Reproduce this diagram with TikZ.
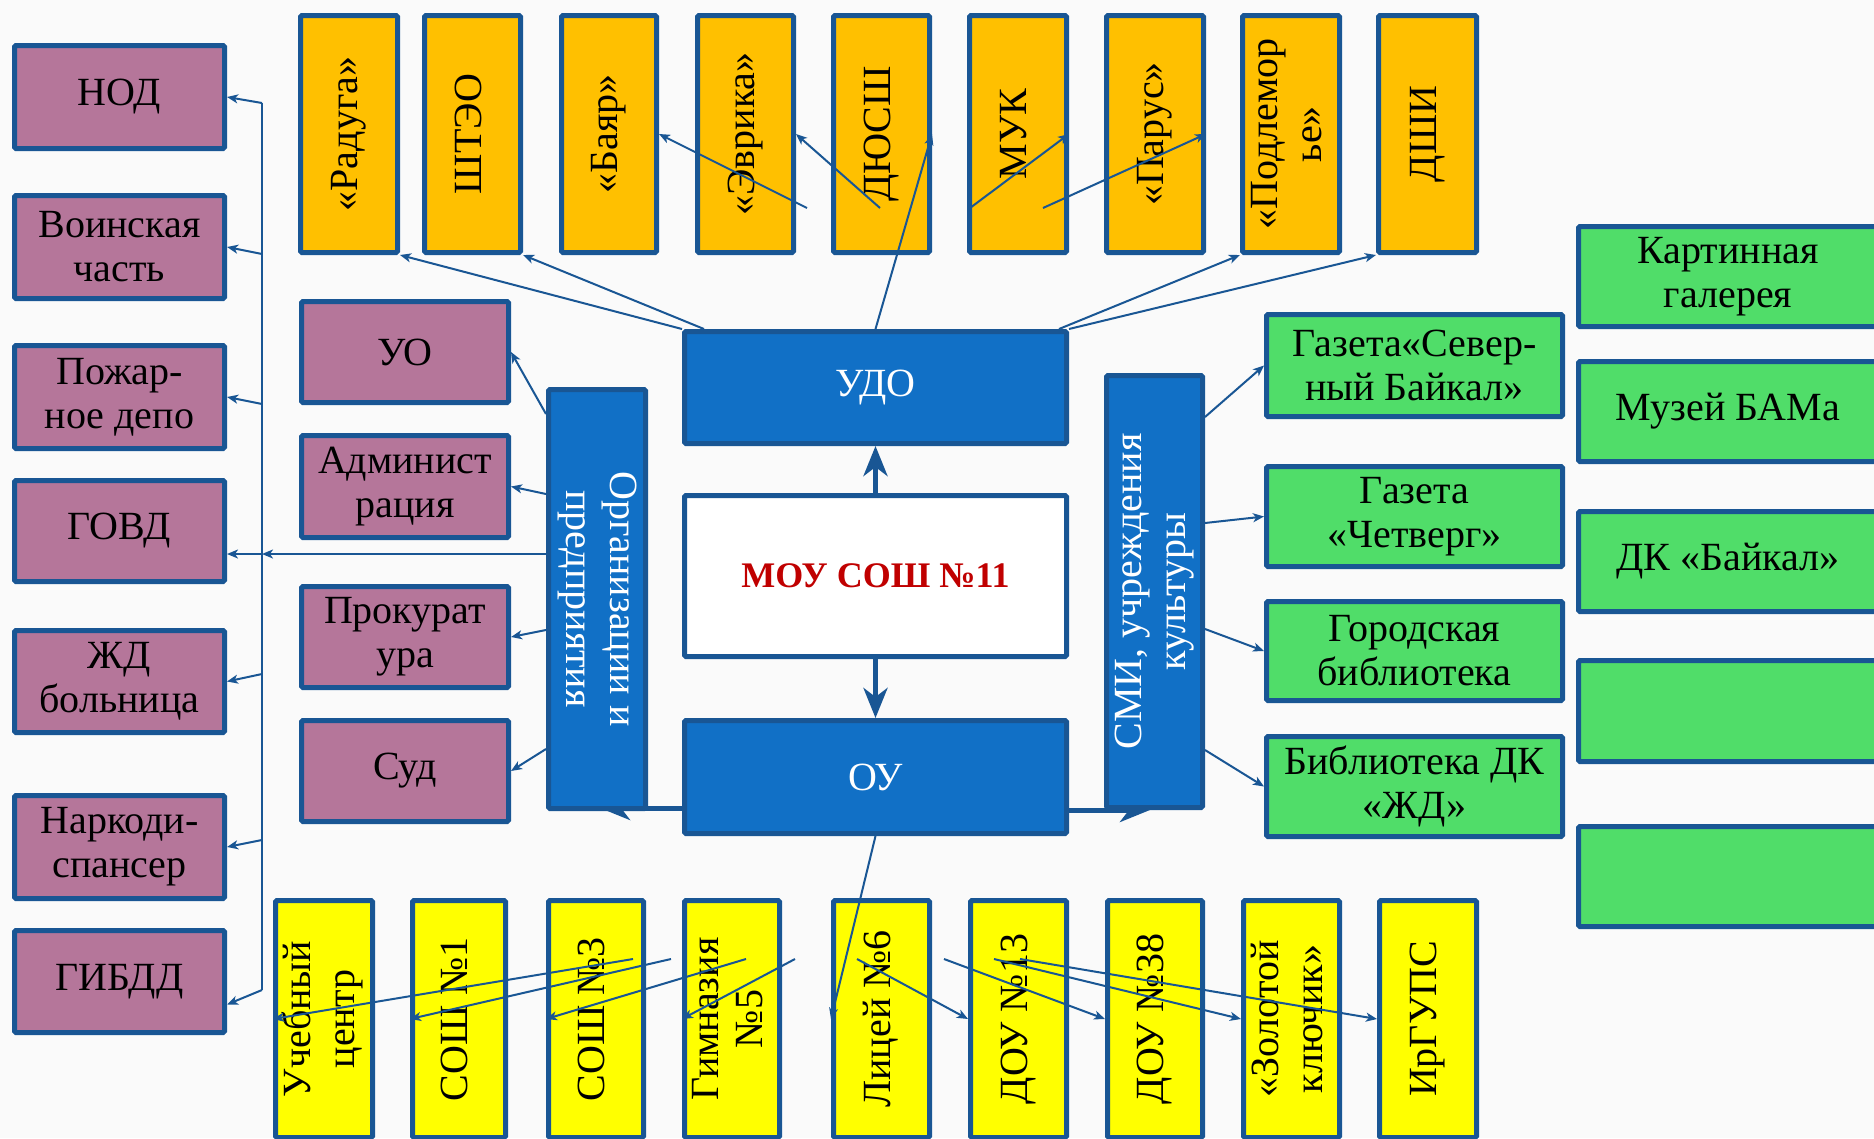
\documentclass[tikz,border=0pt]{standalone}
\usepackage{fontspec}
\setmainfont{Liberation Serif}
\usepackage{graphicx}
\usetikzlibrary{arrows.meta,backgrounds}
\definecolor{cBord}{RGB}{25,86,148}
\definecolor{cOrange}{RGB}{255,192,0}
\definecolor{cPurple}{RGB}{181,118,154}
\definecolor{cYellow}{RGB}{255,255,0}
\definecolor{cGreen}{RGB}{80,221,105}
\definecolor{cBlue}{RGB}{17,112,198}
\definecolor{cRed}{RGB}{192,0,0}
\definecolor{cBg}{RGB}{250,250,250}
\newcommand\mybox[7]{\node[#6, minimum width={(#4)-(#2)-5}, minimum height={(#5)-(#3)-5}] (#1) at ({((#2)+(#4))/2},{((#3)+(#5))/2}) {#7};}
\newcommand\rtext[2]{\rotatebox{#1}{\begin{tabular}{@{}c@{}}#2\end{tabular}}}
\tikzset{
  bx/.style={draw=cBord, line width=5pt, inner sep=0pt, align=center, rounded corners=1.5pt,
    font=\fontsize{40}{44}\selectfont},
  orb/.style={bx, fill=cOrange},
  pur/.style={bx, fill=cPurple},
  yel/.style={bx, fill=cYellow},
  grb/.style={bx, fill=cGreen},
  blb/.style={bx, fill=cBlue, text=white},
  whb/.style={bx, fill=white, text=cRed, font=\fontsize{36}{40}\selectfont\bfseries},
  conn/.style={draw=cBord, line width=2pt},
  arr/.style={conn, -{Stealth[length=11pt,width=9pt,inset=3pt]}},
  bigarr/.style={draw=cBord, line width=5pt, -{Stealth[length=30pt,width=24pt,inset=9pt]}},
}
\begin{document}
\begin{tikzpicture}[x=1pt,y=-1pt]
\useasboundingbox (0,0) rectangle (1874,1138);
\begin{scope}[on background layer]
  \fill[cBg] (0,0) rectangle (1874,1138);
\end{scope}
\clip (0,0) rectangle (1874,1138);

% top row
\mybox{radu}{298}{13}{400}{255}{orb}{\rtext{90}{«Радуга»}}
\mybox{shteo}{422}{13}{523}{255}{orb}{\rtext{90}{ШТЭО}}
\mybox{bayar}{559}{13}{659}{255}{orb}{\rtext{90}{«Баяр»}}
\mybox{evr}{695}{13}{796}{255}{orb}{\rtext{90}{«Эврика»}}
\mybox{dyussh}{831}{13}{932}{255}{orb}{\rtext{90}{ДЮСШ}}
\mybox{muk}{967}{13}{1069}{255}{orb}{\rtext{90}{МУК}}
\mybox{parus}{1104}{13}{1206}{255}{orb}{\rtext{90}{«Парус»}}
\mybox{podl}{1240}{13}{1342}{255}{orb}{\rtext{90}{«Подлемор\\ье»}}
\mybox{dshi}{1376}{13}{1479}{255}{orb}{\rtext{90}{ДШИ}}

% left column
\mybox{nod}{12}{43}{227}{151}{pur}{НОД}
\mybox{voin}{12}{193}{227}{301}{pur}{Воинская\\часть}
\mybox{pozh}{12}{343}{227}{451}{pur}{Пожар-\\ное депо}
\mybox{govd}{12}{478}{227}{584}{pur}{ГОВД}
\mybox{zhd}{12}{628}{227}{735}{pur}{ЖД\\больница}
\mybox{nark}{12}{793}{227}{901}{pur}{Наркоди-\\спансер}
\mybox{gibdd}{12}{928}{227}{1035}{pur}{ГИБДД}

% second column
\mybox{uo}{299}{299}{511}{405}{pur}{УО}
\mybox{adm}{299}{433}{511}{540}{pur}{Админист\\рация}
\mybox{prok}{299}{584}{511}{690}{pur}{Прокурат\\ура}
\mybox{sud}{299}{718}{511}{824}{pur}{Суд}

% centre
\mybox{org}{546}{387}{648}{811}{blb}{\rtext{-90}{Организации и\\предприятия}}
\mybox{udo}{682}{329}{1069}{446}{blb}{УДО}
\mybox{mou}{682}{493}{1069}{659}{whb}{МОУ СОШ №11}
\mybox{ou}{682}{718}{1069}{836}{blb}{ОУ}
\mybox{smi}{1104}{373}{1205}{810}{blb}{\rtext{90}{СМИ, учреждения\\культуры}}

% green middle
\mybox{sev}{1264}{312}{1565}{419}{grb}{Газета«Север-\\ный Байкал»}
\mybox{chetv}{1264}{464}{1565}{569}{grb}{Газета\\«Четверг»}
\mybox{gor}{1264}{599}{1565}{703}{grb}{Городская\\библиотека}
\mybox{bibl}{1264}{734}{1565}{839}{grb}{Библиотека ДК\\«ЖД»}

% green right
\mybox{kart}{1576}{224}{1880}{329}{grb}{Картинная\\галерея}
\mybox{muz}{1576}{359}{1880}{464}{grb}{Музей БАМа}
\mybox{dk}{1576}{509}{1880}{614}{grb}{ДК «Байкал»}
\mybox{emA}{1576}{658}{1880}{764}{grb}{}
\mybox{emB}{1576}{824}{1880}{929}{grb}{}

% bottom row
\mybox{ucheb}{273}{898}{375}{1140}{yel}{\rtext{90}{Учебный\\центр}}
\mybox{soshA}{410}{898}{508}{1140}{yel}{\rtext{90}{СОШ №1}}
\mybox{soshB}{546}{898}{646}{1140}{yel}{\rtext{90}{СОШ №3}}
\mybox{gimn}{682}{898}{782}{1140}{yel}{\rtext{90}{Гимназия\\№5}}
\mybox{litsey}{831}{898}{932}{1140}{yel}{\rtext{90}{Лицей №6}}
\mybox{douA}{968}{898}{1069}{1140}{yel}{\rtext{90}{ДОУ №13}}
\mybox{douB}{1105}{898}{1205}{1140}{yel}{\rtext{90}{ДОУ №38}}
\mybox{zol}{1241}{898}{1342}{1140}{yel}{\rtext{90}{«Золотой\\ключик»}}
\mybox{irg}{1377}{898}{1479}{1140}{yel}{\rtext{90}{ИрГУПС}}

% thick arrows behind boxes
\coordinate (ot) at (600,808);
\coordinate (ct) at (1150,810);
\begin{scope}[on background layer]
  \draw[bigarr] (ou.west |- ot) -- (ot);
  \draw[bigarr] (ou.east |- ct) -- (ct);
\end{scope}
\draw[bigarr] (mou.north) -- (udo.south);
\draw[bigarr] (mou.south) -- (ou.north);

% top connectors
\coordinate (cb) at (807,208);
\coordinate (ce) at (880,208);
\coordinate (cm) at (970,208);
\coordinate (cp) at (1043,208);
\draw[arr] (udo.north west) -- (radu.south east);
\draw[arr] ([xshift=22pt]udo.north west) -- (shteo.south east);
\draw[arr] (udo.north) -- (dyussh.east);
\draw[arr] (cb) -- (bayar.east);
\draw[arr] (ce) -- (evr.east);
\draw[arr] (cm) -- (muk.east);
\draw[arr] (cp) -- (parus.east);
\draw[arr] ([xshift=-10pt]udo.north east) -- (podl.south west);
\draw[arr] (udo.north east) -- (dshi.south west);

% left bus
\coordinate (lt) at (262,103);
\coordinate (lv) at (262,254);
\coordinate (lp) at (262,404);
\coordinate (gv) at (262,554);
\coordinate (lz) at (262,674);
\coordinate (ln) at (262,840);
\coordinate (lb) at (262,990);
\draw[conn] (lt) -- (lb);
\draw[arr] (lt) -- (nod.east);
\draw[arr] (lv) -- (voin.east);
\draw[arr] (lp) -- (pozh.east);
\draw[arr] (org.west |- gv) -- (gv);
\draw[arr] (gv) -- (govd.east |- gv);
\draw[arr] (lz) -- (zhd.east);
\draw[arr] (ln) -- (nark.east);
\draw[arr] (lb) -- ([yshift=-23pt]gibdd.east);

% org connectors
\draw[arr] (org.west |- 0,414) -- (uo.east);
\draw[arr] (org.west |- 0,494) -- (adm.east);
\draw[arr] (org.west |- 0,630) -- (prok.east);
\draw[arr] (org.west |- 0,749) -- (sud.east);

% smi connectors
\draw[arr] (smi.east |- 0,417) -- (sev.west);
\draw[arr] (smi.east |- 0,523) -- (chetv.west);
\draw[arr] (smi.east |- 0,629) -- (gor.west);
\draw[arr] (smi.east |- 0,750) -- (bibl.west);

% bottom connectors
\coordinate (uA) at (633,959);
\coordinate (uB) at (671,959);
\coordinate (uC) at (746,959);
\coordinate (uD) at (795,959);
\coordinate (dA) at (857,959);
\coordinate (dB) at (944,959);
\coordinate (dC) at (994,959);
\coordinate (dD) at (1020,959);
\draw[arr] (ou.south) -- (litsey.west);
\draw[arr] (uA) -- (ucheb.west);
\draw[arr] (uB) -- (soshA.west);
\draw[arr] (uC) -- (soshB.west);
\draw[arr] (uD) -- (gimn.west);
\draw[arr] (dA) -- (douA.west);
\draw[arr] (dB) -- (douB.west);
\draw[arr] (dC) -- (zol.west);
\draw[arr] (dD) -- (irg.west);
\end{tikzpicture}
\end{document}
